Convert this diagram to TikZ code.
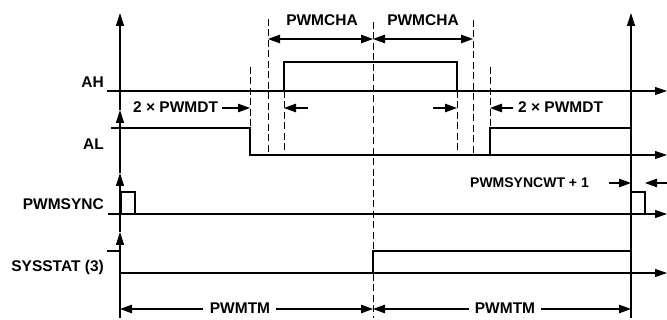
\documentclass[tikz,border=0pt]{standalone}
\usepackage{fontspec}
\setmainfont{Liberation Sans}
\usetikzlibrary{arrows.meta}
\begin{document}
\begin{tikzpicture}[x=1pt,y=-1pt,
  lbl/.style={font=\fontsize{15.5}{18}\selectfont\bfseries, inner sep=0pt},
  slbl/.style={font=\fontsize{14}{16}\selectfont\bfseries, inner sep=0pt},
  axisline/.style={line width=1.1pt},
  sig/.style={line width=2.8pt, line join=miter, line cap=rect},
  dsh/.style={line width=1pt, dash pattern=on 7pt off 3.5pt},
  uptip/.style={axisline, -{Triangle[length=13pt,width=8pt]}},
  rtip/.style={axisline, -{Triangle[length=12pt,width=8pt]}},
  dimtip/.style={axisline, -{Triangle[length=12pt,width=8.5pt]}},
  dimboth/.style={axisline, {Triangle[length=12pt,width=8.5pt]}-{Triangle[length=12pt,width=8.5pt]}},
]
\useasboundingbox[fill=white] (0,0) rectangle (667,320);

% vertical axes
\coordinate (lb) at (120,318);
\coordinate (l4) at (120,232);
\coordinate (l3) at (120,173);
\coordinate (l2) at (120,110);
\coordinate (l1) at (120,13);
\draw[uptip] (lb) -- (l4);
\draw[uptip] (l4) -- (l3);
\draw[uptip] (l3) -- (l2);
\draw[uptip] (l2) -- (l1);
\coordinate (rb) at (631,318);
\coordinate (rt) at (631,13);
\draw[uptip] (rb) -- (rt);

% dashed markers
\draw[dsh] (250,67) -- (250,128);
\draw[dsh] (268,19) -- (268,155);
\draw[dsh] (284,91) -- (284,155);
\draw[dsh] (373,22) -- (373,318);
\draw[dsh] (457,91) -- (457,155);
\draw[dsh] (473,20) -- (473,155);
\draw[dsh] (490,67) -- (490,128);

% horizontal axes
\coordinate (ahs) at (108,91);  \coordinate (ahe) at (667,91);
\coordinate (als) at (250,155); \coordinate (ale) at (667,155);
\coordinate (pss) at (109,214); \coordinate (pse) at (667,214);
\coordinate (sss) at (120,273); \coordinate (sse) at (667,273);
\draw[rtip] (ahs) -- (ahe);
\draw[rtip] (als) -- (ale);
\draw[rtip] (pss) -- (pse);
\draw[rtip] (sss) -- (sse);

% signals
\draw[sig] (108,91) -- (284,91) -- (284,62) -- (457,62) -- (457,91) -- (631,91);
\draw[sig] (112,128) -- (250,128) -- (250,155) -- (490,155) -- (490,128) -- (631,128);
\draw[sig] (109,214) -- (121,214) -- (121,192) -- (135,192) -- (135,214) -- (631,214)
  -- (631,192) -- (645,192) -- (645,214) -- (650,214);
\draw[sig] (108,251) -- (120,251) -- (120,273) -- (373,273) -- (373,251) -- (631,251) -- (631,273);

% signal labels
\node[lbl, anchor=base east] (tAH) at (104,88) {AH};
\node[lbl, anchor=base east] (tAL) at (104,150) {AL};
\node[lbl, anchor=base east] (tPS) at (104,210) {PWMSYNC};
\node[lbl, anchor=base east] (tSS) at (104,272) {SYSSTAT (3)};

% PWMCHA dimensions
\coordinate (c1) at (268,39); \coordinate (c2) at (373,39); \coordinate (c3) at (473,39);
\draw[dimboth] (c1) -- (c2);
\draw[dimboth] (c2) -- (c3);
\node[lbl, anchor=base] (ch1) at (322,26) {PWMCHA};
\node[lbl, anchor=base] (ch2) at (423,26) {PWMCHA};

% 2 x PWMDT
\node[lbl, anchor=base west] (dt1) at (133,113) {2 × PWMDT};
\coordinate (d1s) at (222,108); \coordinate (d1e) at (250,108);
\coordinate (d2s) at (308,108); \coordinate (d2e) at (284,108);
\coordinate (d3s) at (433,108); \coordinate (d3e) at (457,108);
\coordinate (d4s) at (513,108); \coordinate (d4e) at (490,108);
\draw[dimtip] (d1s) -- (d1e);
\draw[dimtip] (d2s) -- (d2e);
\draw[dimtip] (d3s) -- (d3e);
\draw[dimtip] (d4s) -- (d4e);
\node[lbl, anchor=base west] (dt2) at (518,113) {2 × PWMDT};

% PWMSYNCWT + 1
\node[slbl, anchor=base east] (sw) at (589,188) {PWMSYNCWT + 1};
\coordinate (s1s) at (609,183); \coordinate (s1e) at (631,183);
\coordinate (s2s) at (668,183); \coordinate (s2e) at (645,183);
\draw[dimtip] (s1s) -- (s1e);
\draw[dimtip] (s2s) -- (s2e);

% PWMTM
\node[lbl, anchor=base] (tm1) at (240,314) {PWMTM};
\node[lbl, anchor=base] (tm2) at (505,314) {PWMTM};
\coordinate (m1a) at (203,309); \coordinate (m1b) at (276,309);
\coordinate (m2a) at (469,309); \coordinate (m2b) at (541,309);
\draw[dimtip] (m1a) -- (120,309);
\draw[dimtip] (m1b) -- (373,309);
\draw[dimtip] (m2a) -- (373,309);
\draw[dimtip] (m2b) -- (631,309);
\end{tikzpicture}
\end{document}
